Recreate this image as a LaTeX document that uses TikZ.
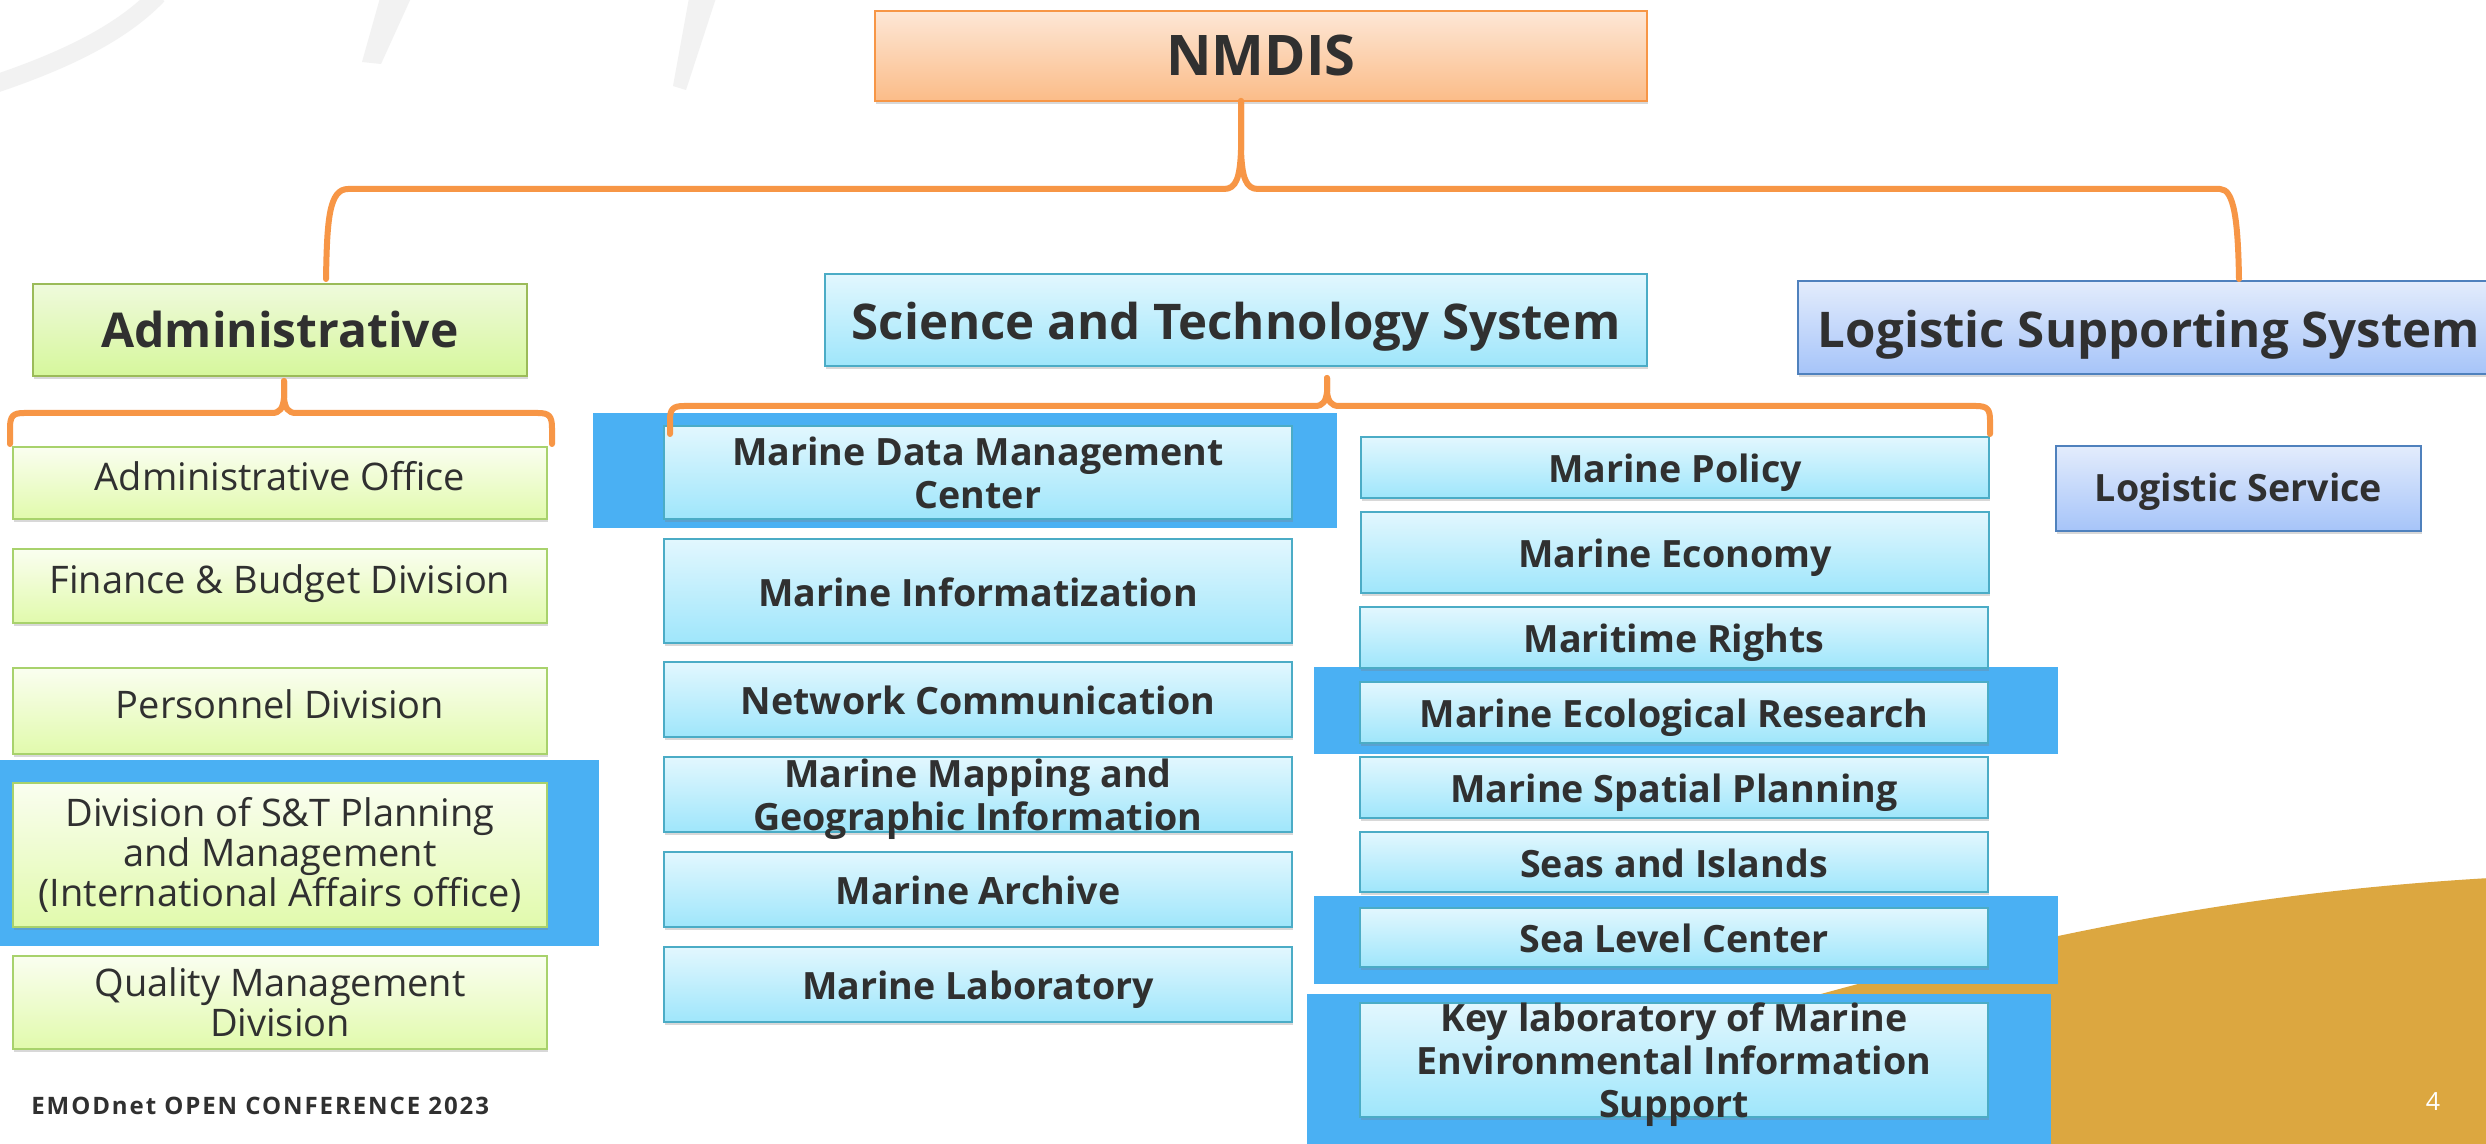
\documentclass[tikz,border=0pt]{standalone}
\usepackage{fontspec}
\setmainfont{Open Sans}
\newfontfamily\footfont[LetterSpace=8]{Open Sans}
\usetikzlibrary{shadows}
\definecolor{cOrange}{HTML}{F79646}
\definecolor{nmTop}{HTML}{FDE7D6}
\definecolor{nmBot}{HTML}{FBBC88}
\definecolor{gTop}{HTML}{EFFADC}
\definecolor{gBot}{HTML}{D6F79C}
\definecolor{gBorder}{HTML}{9BBB59}
\definecolor{gsTop}{HTML}{FAFEF0}
\definecolor{gsBot}{HTML}{E1FAAC}
\definecolor{gsBorder}{HTML}{A8D26C}
\definecolor{cTop}{HTML}{E2F7FE}
\definecolor{cBot}{HTML}{9FE6FB}
\definecolor{cBorder}{HTML}{4BACC6}
\definecolor{bTop}{HTML}{E3ECFC}
\definecolor{bBot}{HTML}{A6C4F9}
\definecolor{bBorder}{HTML}{4F81BD}
\definecolor{hl}{HTML}{4AB0F3}
\definecolor{blob}{HTML}{DCA740}
\definecolor{txt}{HTML}{303030}
\definecolor{faint}{HTML}{F2F2F2}
\newcommand\bx[8]{%
  \node[#2, minimum width=#6*0.5pt, minimum height=#7*0.5pt] (#1) at (#4,#5) {};
  \node[lbl, #3] (#1-t) at (#1.center) {#8};}
\begin{document}
\begin{tikzpicture}[x=0.5pt,y=-0.5pt,
  box/.style={rectangle, inner sep=0pt, line width=1.2pt,
    drop shadow={shadow xshift=0.5pt, shadow yshift=-1.6pt, opacity=0.3}},
  lbl/.style={inner sep=0pt, align=center, text=txt},
  fNM/.style={font=\fontsize{28}{32}\selectfont\bfseries, text height=20pt, text depth=0pt},
  fT/.style={font=\fontsize{24.6}{30}\selectfont\bfseries, text height=17.6pt, text depth=0pt, yshift=-1pt},
  fTA/.style={font=\fontsize{24}{30}\selectfont\bfseries, text height=17.1pt, text depth=0pt},
  fB/.style={font=\fontsize{18.8}{21.5}\selectfont\bfseries, text height=13.4pt, text depth=0pt, yshift=-1pt},
  fBm/.style={font=\fontsize{18.8}{21.5}\selectfont\bfseries},
  fR/.style={font=\fontsize{19}{20}\selectfont, text height=13.6pt, text depth=0pt, yshift=3pt},
  fRm/.style={font=\fontsize{19}{20}\selectfont},
  fLS/.style={font=\fontsize{18.8}{22}\selectfont\bfseries, text height=13.4pt, text depth=0pt},
  nmb/.style={box, top color=nmTop, bottom color=nmBot, draw=cOrange},
  ghead/.style={box, top color=gTop, bottom color=gBot, draw=gBorder},
  gsub/.style={box, top color=gsTop, bottom color=gsBot, draw=gsBorder},
  cbox/.style={box, top color=cTop, bottom color=cBot, draw=cBorder},
  bbox/.style={box, top color=bTop, bottom color=bBot, draw=bBorder},
  conn/.style={draw=cOrange, line width=3pt, line cap=round, line join=round},
  hlr/.style={fill=hl}]
\useasboundingbox (0,0) rectangle (2486,1144);
\begin{scope}
\clip (0,0) rectangle (2486,1144);
\fill[white] (0,0) rectangle (2486,1144);
% faint background decoration
\draw[faint, line width=9pt] (-5,84) .. controls (60,62) and (120,35) .. (158,-5);
\fill[faint] (380,-2) -- (411,-2) -- (381,64) -- (362,62) -- cycle;
\fill[faint] (689,-2) -- (716,-2) -- (686,90) -- (673,86) -- cycle;
% orange blob
\fill[blob] (2490,878) .. controls (2200,895) and (1900,950) .. (1330,1150) -- (2490,1150) -- cycle;
% highlight rectangles
\fill[hlr] (0,760) rectangle (599,946);
\fill[hlr] (593,413) rectangle (1337,528);
\fill[hlr] (1314,667) rectangle (2058,754);
\fill[hlr] (1314,896) rectangle (2058,984);
\fill[hlr] (1307,994) rectangle (2051,1150);
% boxes
\bx{nmdis}{nmb}{fNM}{1261}{56}{772}{90}{NMDIS}
\bx{adm}{ghead}{fTA}{280}{330}{494}{92}{Administrative}
\bx{st}{cbox}{fT}{1236}{320}{822}{92}{Science and Technology System}
\bx{lss}{bbox}{fT}{2149}{327.5}{702}{93}{Logistic Supporting System}
\bx{ls}{bbox}{fLS}{2238.5}{488.5}{365}{85}{Logistic Service}
% administrative units
\bx{a1}{gsub}{fR}{280}{483}{534}{72}{Administrative Office}
\bx{a2}{gsub}{fR}{280}{586}{534}{74}{Finance \& Budget Division}
\bx{a3}{gsub}{fR}{280}{711}{534}{86}{Personnel Division}
\bx{a4}{gsub}{fRm}{280}{855}{534}{144}{Division of S\&T Planning\\and Management\\(International Affairs office)}
\bx{a5}{gsub}{fRm}{280}{1002.5}{534}{93}{Quality Management\\Division}
% S&T left column
\bx{s1}{cbox}{fBm}{978}{472.5}{628}{93}{Marine Data Management\\Center}
\bx{s2}{cbox}{fB}{978}{591}{628}{104}{Marine Informatization}
\bx{s3}{cbox}{fB}{978}{699.5}{628}{75}{Network Communication}
\bx{s4}{cbox}{fBm, yshift=-2.5pt}{978}{794.5}{628}{75}{Marine Mapping and\\Geographic Information}
\bx{s5}{cbox}{fB}{978}{889.5}{628}{75}{Marine Archive}
\bx{s6}{cbox}{fB}{978}{984.5}{628}{75}{Marine Laboratory}
% S&T right column
\bx{r1}{cbox}{fB}{1675}{467.5}{628}{61}{Marine Policy}
\bx{r2}{cbox}{fB}{1675}{552.5}{628}{81}{Marine Economy}
\bx{r3}{cbox}{fB}{1674}{637.5}{628}{61}{Maritime Rights}
\bx{r4}{cbox}{fB}{1674}{712.5}{628}{61}{Marine Ecological Research}
\bx{r5}{cbox}{fB}{1674}{787.5}{628}{61}{Marine Spatial Planning}
\bx{r6}{cbox}{fB}{1674}{862}{628}{60}{Seas and Islands}
\bx{r7}{cbox}{fB}{1674}{937.5}{628}{59}{Sea Level Center}
\bx{r8}{cbox}{fBm, yshift=-2.5pt}{1674}{1060}{628}{114}{Key laboratory of Marine\\Environmental Information\\Support}
% connectors
\coordinate (tc) at (1241,101);
\coordinate (tl) at (326,279);
\coordinate (tr) at (2239,279);
\draw[conn] (tl) .. controls (327,220) and (329,189) .. (348,189) -- (1224,189) .. controls (1236,189) and (1240,178) .. (1241,150) -- (tc);
\draw[conn] (tc) -- (1241,150) .. controls (1242,178) and (1246,189) .. (1258,189) -- (2220,189) .. controls (2234,189) and (2238,220) .. (tr);
\coordinate (ac) at (284,381);
\coordinate (al) at (10,444);
\coordinate (ar) at (552,444);
\draw[conn] (al) -- (10,428) .. controls (10,416) and (13,413) .. (24,413) -- (272,413) .. controls (280,413) and (283,408) .. (284,398) -- (ac);
\draw[conn] (ac) -- (284,398) .. controls (285,408) and (288,413) .. (296,413) -- (538,413) .. controls (549,413) and (552,416) .. (552,428) -- (ar);
\coordinate (sc) at (1327,378);
\coordinate (sl) at (670,434);
\coordinate (sr) at (1990,434);
\draw[conn] (sl) -- (670,420) .. controls (670,409) and (673,406) .. (684,406) -- (1315,406) .. controls (1323,406) and (1326,401) .. (1327,392) -- (sc);
\draw[conn] (sc) -- (1327,392) .. controls (1328,401) and (1331,406) .. (1339,406) -- (1976,406) .. controls (1987,406) and (1990,409) .. (1990,420) -- (sr);
% footer
\node[anchor=base west, inner sep=0pt, text=txt, font=\footfont\bfseries\fontsize{12}{14}\selectfont] (foot) at (31,1114) {EMODnet OPEN CONFERENCE 2023};
\node[inner sep=0pt, text=white, font=\fontsize{12.5}{14}\selectfont] (pg) at (2433,1102) {4};
\end{scope}
\end{tikzpicture}
\end{document}
